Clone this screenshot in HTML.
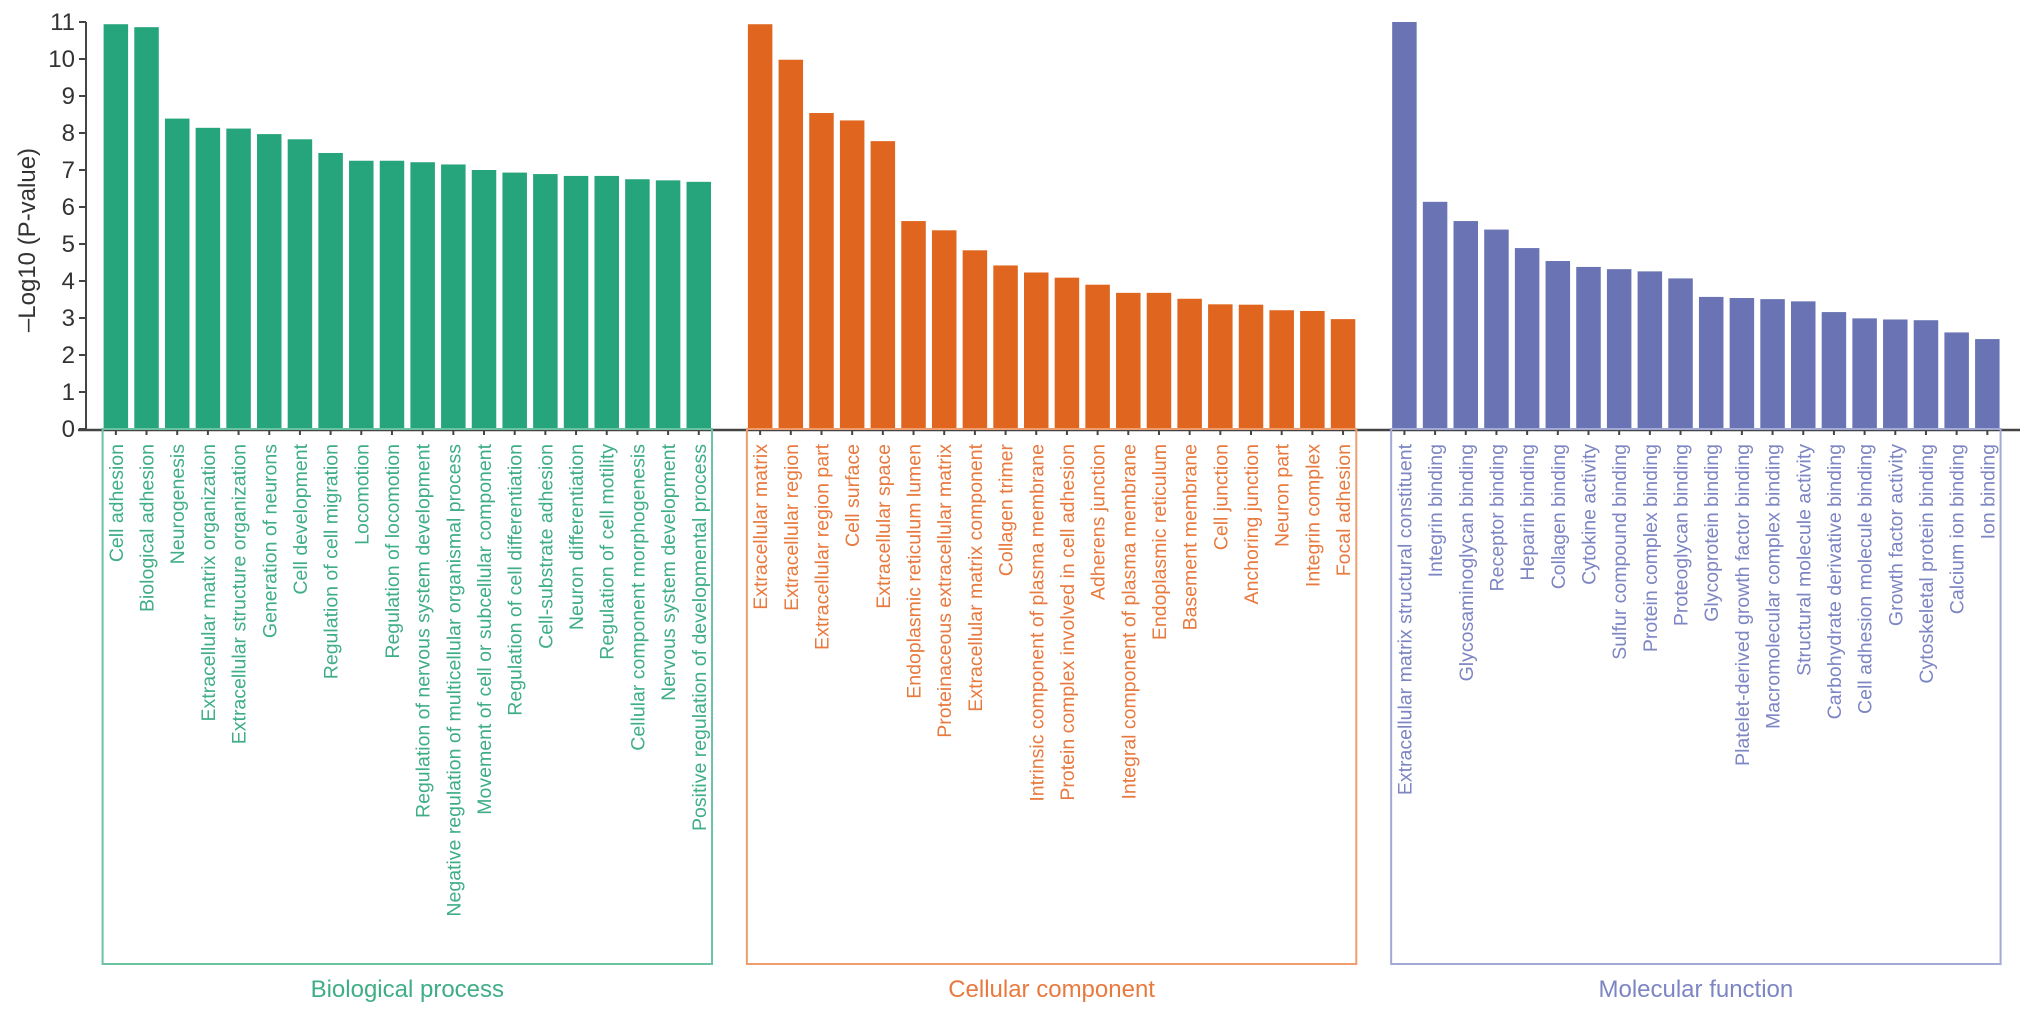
<!DOCTYPE html>
<html><head><meta charset="utf-8">
<style>
html,body{margin:0;padding:0;background:#fff;}
svg{display:block;font-family:"Liberation Sans",Arial,sans-serif;}
</style></head>
<body>
<svg id="chart" width="2032" height="1016" viewBox="0 0 2032 1016" xmlns="http://www.w3.org/2000/svg">
<g id="yaxis"></g>
<text transform="translate(35,240) rotate(-90)" text-anchor="middle" font-size="24" fill="#333">–Log10 (P-value)</text>
<g id="bars"></g>
<g id="xaxis"></g>
<g id="labels"></g>
<g id="groups"></g>
</svg>
<script>
const bpCategories = ["Cell adhesion","Biological adhesion","Neurogenesis","Extracellular matrix organization","Extracellular structure organization","Generation of neurons","Cell development","Regulation of cell migration","Locomotion","Regulation of locomotion","Regulation of nervous system development","Negative regulation of multicellular organismal process","Movement of cell or subcellular component","Regulation of cell differentiation","Cell-substrate adhesion","Neuron differentiation","Regulation of cell motility","Cellular component morphogenesis","Nervous system development","Positive regulation of developmental process"];
const bpValues = [10.94,10.86,8.39,8.14,8.12,7.97,7.83,7.46,7.25,7.25,7.21,7.15,7.0,6.93,6.89,6.84,6.84,6.75,6.72,6.68];
const ccCategories = ["Extracellular matrix","Extracellular region","Extracellular region part","Cell surface","Extracellular space","Endoplasmic reticulum lumen","Proteinaceous extracellular matrix","Extracellular matrix component","Collagen trimer","Intrinsic component of plasma membrane","Protein complex involved in cell adhesion","Adherens junction","Integral component of plasma membrane","Endoplasmic reticulum","Basement membrane","Cell junction","Anchoring junction","Neuron part","Integrin complex","Focal adhesion"];
const ccValues = [10.94,9.98,8.54,8.34,7.78,5.62,5.37,4.83,4.42,4.23,4.09,3.90,3.68,3.68,3.52,3.37,3.36,3.21,3.19,2.97];
const mfCategories = ["Extracellular matrix structural constituent","Integrin binding","Glycosaminoglycan binding","Receptor binding","Heparin binding","Collagen binding","Cytokine activity","Sulfur compound binding","Protein complex binding","Proteoglycan binding","Glycoprotein binding","Platelet-derived growth factor binding","Macromolecular complex binding","Structural molecule activity","Carbohydrate derivative binding","Cell adhesion molecule binding","Growth factor activity","Cytoskeletal protein binding","Calcium ion binding","Ion binding"];
const mfValues = [11.0,6.14,5.62,5.39,4.89,4.54,4.38,4.32,4.26,4.07,3.57,3.54,3.51,3.45,3.16,2.99,2.96,2.94,2.61,2.43];
const groupNames = ["Biological process","Cellular component","Molecular function"];
const yTicks = [0,1,2,3,4,5,6,7,8,9,10,11];

const NS="http://www.w3.org/2000/svg";
const Y0=429, UNIT=37, X0=103.6, PITCH=30.68, BW=24.5;
function yPos(v){return Y0 - v*UNIT;}
function slotX(slot){return X0 + slot*PITCH;}
function mk(tag,attrs,parent){const e=document.createElementNS(NS,tag);for(const k in attrs)e.setAttribute(k,attrs[k]);parent.appendChild(e);return e;}

const yaxis=document.getElementById('yaxis');
const ya=mk('line',{x1:86,x2:86,y1:yPos(11),y2:Y0,stroke:'#444','stroke-width':2},yaxis);


yTicks.forEach(t=>{
  const tk=mk('line',{x1:79,x2:86,y1:yPos(t),y2:yPos(t),stroke:'#444','stroke-width':2},yaxis);
  
  
  const tl=mk('text',{x:75,y:yPos(t)+8,'text-anchor':'end','font-size':24,fill:'#333'},yaxis);
  
  
  tl.textContent=t;
});

const groups=[
  {cats:bpCategories,vals:bpValues,start:0,bar:'#26a47c',txt:'#3fae86',box:'#6cc3a2'},
  {cats:ccCategories,vals:ccValues,start:21,bar:'#e0661f',txt:'#e87a3f',box:'#ef9c6e'},
  {cats:mfCategories,vals:mfValues,start:42,bar:'#6a73b4',txt:'#7d85c3',box:'#a3a9d6'}
];
const barsG=document.getElementById('bars'), labelsG=document.getElementById('labels'), xG=document.getElementById('xaxis'), boxG=document.getElementById('groups');
groups.forEach((g,gi)=>{
  g.vals.forEach((v,i)=>{
    const x=slotX(g.start+i);
    const r=mk('rect',{x:x,y:yPos(v),width:BW,height:Y0-yPos(v),fill:g.bar},barsG);
    
    
    const cx=x+BW/2;
    const tk=mk('line',{x1:cx,x2:cx,y1:Y0,y2:Y0+6,stroke:'#444','stroke-width':2},xG);
    
    
    const t=mk('text',{transform:'translate('+(cx+7)+',444) rotate(-90)','text-anchor':'end','font-size':19.5,fill:g.txt},labelsG);
    
    
    t.textContent=g.cats[i];
  });
  const left=slotX(g.start), right=slotX(g.start+g.vals.length-1)+BW;
  const b=mk('rect',{x:left-1,y:Y0,width:right-left+2,height:964-Y0,fill:'none',stroke:g.box,'stroke-width':2},boxG);
  
  
  const gt=mk('text',{x:(left+right)/2,y:997,'text-anchor':'middle','font-size':24,fill:g.txt},boxG);
  
  
  gt.textContent=groupNames[gi];
});
const xa=mk('line',{x1:78,x2:2020,y1:Y0+1,y2:Y0+1,stroke:'#444','stroke-width':2.5},xG);


</script>
</body></html>
